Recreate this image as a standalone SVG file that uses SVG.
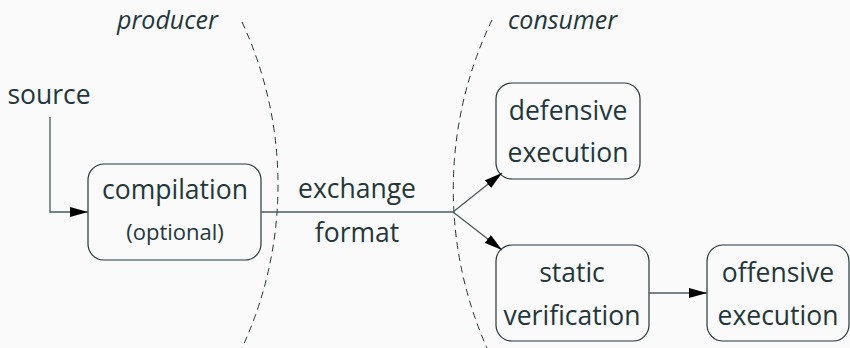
<svg xmlns="http://www.w3.org/2000/svg" width="850" height="348" viewBox="0 0 850 348">
  <defs>
    <marker id="arrow" viewBox="0 0 18 10" refX="18" refY="5" markerWidth="18" markerHeight="10" markerUnits="userSpaceOnUse" orient="auto">
      <path d="M0,0 L18,5 L0,10 Z" fill="#000"/>
    </marker>
    <style>
      .node rect { fill: none; stroke: #23373b; stroke-width: 1.2; }
      .label { font-family: "Open Sans", "Noto Sans", sans-serif; font-size: 26.5px; fill: #23373b; text-anchor: middle; }
      .small { font-size: 22px; }
      .role { font-family: "Open Sans", "Noto Sans", sans-serif; font-size: 25px; font-style: italic; fill: #23373b; }
      .boundary { fill: none; stroke: #23373b; stroke-width: 1; stroke-dasharray: 7 5; }
      .edge { fill: none; stroke: #4a5a5e; stroke-width: 1.3; }
    </style>
  </defs>
  <rect width="850" height="348" fill="#fafafa"/>

  <!-- producer / consumer boundaries -->
  <g id="boundaries">
    <path class="boundary" d="M242,22 A387,387 0 0 1 242,348"/>
    <path class="boundary" d="M492,20 A390,390 0 0 0 487,348"/>
    <text class="role" x="117" y="29">producer</text>
    <text class="role" x="508" y="29">consumer</text>
  </g>

  <g id="source">
    <text class="label" x="49" y="104">source</text>
  </g>

  <g id="compilation" class="node">
    <rect x="88" y="164" width="173" height="96" rx="16"/>
    <text class="label" x="175" y="199">compilation</text>
    <text class="label small" x="175" y="240">(optional)</text>
  </g>

  <g id="exchange-format">
    <text class="label" x="357" y="198">exchange</text>
    <text class="label" x="357" y="242">format</text>
  </g>

  <g id="defensive" class="node">
    <rect x="496" y="83" width="144" height="96" rx="16"/>
    <text class="label" x="568" y="120">defensive</text>
    <text class="label" x="568" y="162">execution</text>
  </g>

  <g id="static" class="node">
    <rect x="496" y="245" width="153" height="96" rx="16"/>
    <text class="label" x="572" y="282">static</text>
    <text class="label" x="572" y="325">verification</text>
  </g>

  <g id="offensive" class="node">
    <rect x="707" y="245" width="142" height="96" rx="16"/>
    <text class="label" x="778" y="282">offensive</text>
    <text class="label" x="778" y="325">execution</text>
  </g>

  <g id="connectors">
    <path class="edge" d="M50,117 V212 H88" marker-end="url(#arrow)"/>
    <path class="edge" d="M261,212 H453"/>
    <path class="edge" d="M453,212 L502,173" marker-end="url(#arrow)"/>
    <path class="edge" d="M453,212 L502,250" marker-end="url(#arrow)"/>
    <path class="edge" d="M649,293 H707" marker-end="url(#arrow)"/>
  </g>
</svg>
